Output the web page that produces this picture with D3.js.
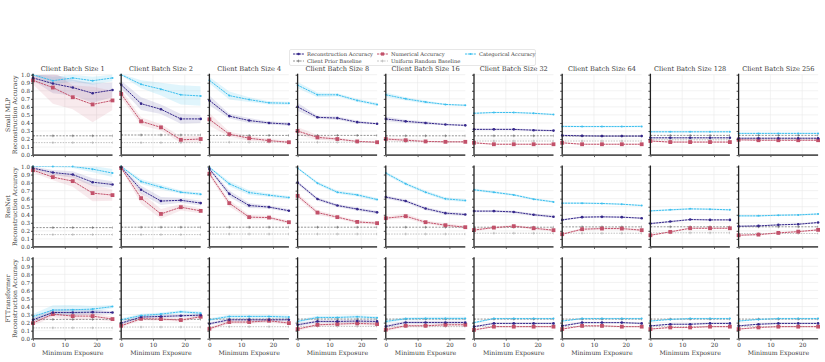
<!DOCTYPE html>
<html>
<head>
<meta charset="utf-8">
<script src="https://cdn.jsdelivr.net/npm/d3@7"></script>
<style>
  body { margin: 0; background: #fff; }
  text { font-family: "DejaVu Serif", serif; fill: #3a3a3a; }
</style>
</head>
<body>
<svg width="825" height="362"></svg>
<script>
const batchSizes = [1, 2, 4, 8, 16, 32, 64, 128, 256];
const exposure = [0, 6.25, 12.5, 18.75, 25];
const modelNames = ['Small MLP', 'ResNet', 'FTTransformer'];

// Small MLP
const mlpRecon = [
  [0.96, 0.89, 0.84, 0.77, 0.81], [0.875, 0.64, 0.57, 0.45, 0.45], [0.68, 0.485, 0.43, 0.40, 0.385],
  [0.60, 0.47, 0.46, 0.41, 0.39], [0.45, 0.42, 0.40, 0.38, 0.37], [0.32, 0.32, 0.32, 0.31, 0.305],
  [0.245, 0.24, 0.237, 0.237, 0.237], [0.215, 0.215, 0.215, 0.215, 0.215], [0.21, 0.21, 0.21, 0.21, 0.21]];
const mlpNum = [
  [0.93, 0.84, 0.72, 0.63, 0.68], [0.76, 0.42, 0.345, 0.19, 0.20], [0.445, 0.26, 0.21, 0.18, 0.16],
  [0.30, 0.22, 0.20, 0.17, 0.16], [0.20, 0.185, 0.17, 0.165, 0.165], [0.153, 0.135, 0.135, 0.135, 0.135],
  [0.153, 0.135, 0.135, 0.135, 0.135], [0.175, 0.162, 0.162, 0.162, 0.162], [0.19, 0.185, 0.185, 0.185, 0.185]];
const mlpCat = [
  [1.0, 0.925, 0.96, 0.925, 0.96], [1.0, 0.88, 0.82, 0.75, 0.735], [0.93, 0.74, 0.69, 0.65, 0.645],
  [0.87, 0.75, 0.75, 0.68, 0.63], [0.75, 0.70, 0.66, 0.63, 0.62], [0.52, 0.53, 0.53, 0.52, 0.505],
  [0.357, 0.355, 0.355, 0.355, 0.357], [0.29, 0.29, 0.29, 0.29, 0.29], [0.27, 0.27, 0.27, 0.27, 0.27]];
const mlpReconErr = [
  [0.03, 0.12, 0.10, 0.12, 0.09], [0.05, 0.08, 0.06, 0.06, 0.05], [0.06, 0.03, 0.03, 0.02, 0.02],
  [0.05, 0.02, 0.02, 0.02, 0.01], [0.03, 0.02, 0.02, 0.01, 0.01], [0.01, 0.01, 0.01, 0.01, 0.01],
  [0.01, 0.01, 0.01, 0.01, 0.01], [0.01, 0.01, 0.01, 0.01, 0.01], [0.01, 0.01, 0.01, 0.01, 0.01]];
const mlpNumErr = [
  [0.05, 0.20, 0.15, 0.22, 0.12], [0.05, 0.05, 0.04, 0.04, 0.04], [0.08, 0.03, 0.03, 0.02, 0.02],
  [0.05, 0.03, 0.02, 0.01, 0.01], [0.02, 0.02, 0.01, 0.01, 0.01], [0.01, 0.01, 0.01, 0.01, 0.01],
  [0.01, 0.01, 0.01, 0.01, 0.01], [0.01, 0.01, 0.01, 0.01, 0.01], [0.01, 0.01, 0.01, 0.01, 0.01]];
const mlpCatErr = [
  [0.01, 0.05, 0.04, 0.05, 0.04], [0.01, 0.05, 0.08, 0.12, 0.12], [0.04, 0.05, 0.03, 0.02, 0.02],
  [0.04, 0.03, 0.02, 0.02, 0.02], [0.03, 0.02, 0.02, 0.01, 0.01], [0.01, 0.01, 0.01, 0.01, 0.01],
  [0.01, 0.01, 0.01, 0.01, 0.01], [0.01, 0.01, 0.01, 0.01, 0.01], [0.01, 0.01, 0.01, 0.01, 0.01]];
const mlpPrior = [0.24, 0.25, 0.245, 0.245, 0.24, 0.24, 0.237, 0.245, 0.245];
const mlpUniform = [0.155, 0.155, 0.16, 0.16, 0.165, 0.175, 0.175, 0.19, 0.2];

// ResNet
const resRecon = [
  [0.98, 0.925, 0.90, 0.805, 0.776], [0.99, 0.71, 0.57, 0.58, 0.545], [0.97, 0.66, 0.515, 0.495, 0.45],
  [0.80, 0.595, 0.515, 0.47, 0.43], [0.62, 0.57, 0.477, 0.42, 0.403], [0.445, 0.445, 0.435, 0.40, 0.375],
  [0.336, 0.37, 0.374, 0.37, 0.357], [0.29, 0.315, 0.34, 0.336, 0.336], [0.257, 0.261, 0.274, 0.282, 0.303]];
const resNum = [
  [0.955, 0.868, 0.818, 0.669, 0.644], [0.98, 0.606, 0.41, 0.494, 0.448], [0.91, 0.544, 0.37, 0.365, 0.307],
  [0.635, 0.427, 0.37, 0.311, 0.295], [0.357, 0.382, 0.307, 0.27, 0.245], [0.21, 0.24, 0.258, 0.232, 0.208],
  [0.158, 0.22, 0.228, 0.228, 0.208], [0.145, 0.187, 0.232, 0.232, 0.232], [0.145, 0.153, 0.174, 0.19, 0.212]];
const resCat = [
  [1.0, 1.0, 1.0, 0.967, 0.918], [1.0, 0.813, 0.743, 0.68, 0.656], [0.99, 0.785, 0.676, 0.643, 0.614],
  [0.98, 0.793, 0.68, 0.647, 0.589], [0.918, 0.785, 0.68, 0.598, 0.577], [0.71, 0.68, 0.647, 0.594, 0.56],
  [0.544, 0.544, 0.54, 0.531, 0.515], [0.448, 0.461, 0.473, 0.469, 0.461], [0.386, 0.386, 0.394, 0.398, 0.41]];
const resReconErr = [
  [0.02, 0.03, 0.04, 0.05, 0.04], [0.01, 0.05, 0.05, 0.03, 0.03], [0.02, 0.04, 0.03, 0.02, 0.02],
  [0.02, 0.02, 0.02, 0.02, 0.02], [0.02, 0.02, 0.02, 0.02, 0.02], [0.015, 0.015, 0.015, 0.015, 0.015],
  [0.01, 0.01, 0.01, 0.01, 0.01], [0.01, 0.01, 0.01, 0.01, 0.01], [0.01, 0.01, 0.01, 0.01, 0.01]];
const resNumErr = [
  [0.03, 0.04, 0.07, 0.10, 0.07], [0.01, 0.07, 0.06, 0.04, 0.03], [0.03, 0.04, 0.03, 0.02, 0.02],
  [0.03, 0.03, 0.02, 0.02, 0.02], [0.02, 0.03, 0.02, 0.02, 0.02], [0.015, 0.015, 0.015, 0.015, 0.015],
  [0.01, 0.015, 0.015, 0.015, 0.015], [0.01, 0.01, 0.01, 0.01, 0.01], [0.01, 0.01, 0.01, 0.01, 0.01]];
const resCatErr = [
  [0.005, 0.01, 0.02, 0.04, 0.05], [0.01, 0.03, 0.03, 0.02, 0.02], [0.01, 0.03, 0.03, 0.02, 0.02],
  [0.01, 0.02, 0.02, 0.02, 0.02], [0.02, 0.02, 0.02, 0.02, 0.02], [0.015, 0.015, 0.015, 0.015, 0.015],
  [0.01, 0.01, 0.01, 0.01, 0.01], [0.01, 0.01, 0.01, 0.01, 0.01], [0.01, 0.01, 0.01, 0.01, 0.01]];
const resPrior = [0.24, 0.245, 0.245, 0.245, 0.245, 0.245, 0.249, 0.25, 0.25];
const resUniform = [0.153, 0.153, 0.16, 0.16, 0.16, 0.17, 0.17, 0.175, 0.167];

// FTTransformer
const ftRecon = [
  [0.235, 0.326, 0.326, 0.33, 0.326], [0.194, 0.269, 0.277, 0.285, 0.293], [0.186, 0.235, 0.235, 0.235, 0.235],
  [0.173, 0.215, 0.215, 0.219, 0.215], [0.153, 0.202, 0.202, 0.202, 0.202], [0.15, 0.19, 0.19, 0.19, 0.19],
  [0.16, 0.20, 0.20, 0.20, 0.19], [0.16, 0.18, 0.18, 0.19, 0.19], [0.16, 0.18, 0.19, 0.19, 0.19]];
const ftNum = [
  [0.194, 0.306, 0.281, 0.281, 0.244], [0.161, 0.248, 0.244, 0.232, 0.273], [0.124, 0.207, 0.207, 0.223, 0.194],
  [0.12, 0.173, 0.182, 0.19, 0.182], [0.112, 0.161, 0.161, 0.173, 0.173], [0.11, 0.15, 0.15, 0.15, 0.15],
  [0.12, 0.16, 0.16, 0.15, 0.15], [0.12, 0.14, 0.14, 0.15, 0.15], [0.12, 0.14, 0.15, 0.15, 0.15]];
const ftCat = [
  [0.277, 0.356, 0.36, 0.368, 0.40], [0.235, 0.289, 0.306, 0.335, 0.318], [0.235, 0.277, 0.277, 0.277, 0.269],
  [0.215, 0.264, 0.264, 0.273, 0.26], [0.215, 0.248, 0.252, 0.252, 0.252], [0.20, 0.25, 0.25, 0.25, 0.25],
  [0.22, 0.25, 0.25, 0.25, 0.25], [0.22, 0.24, 0.25, 0.25, 0.25], [0.22, 0.24, 0.25, 0.25, 0.25]];
const ftReconErr = [
  [0.03, 0.04, 0.04, 0.03, 0.02], [0.02, 0.02, 0.02, 0.02, 0.02], [0.02, 0.02, 0.02, 0.02, 0.02],
  [0.02, 0.02, 0.02, 0.02, 0.02], [0.02, 0.02, 0.02, 0.02, 0.02], [0.01, 0.01, 0.01, 0.01, 0.01],
  [0.01, 0.01, 0.01, 0.01, 0.01], [0.01, 0.01, 0.01, 0.01, 0.01], [0.01, 0.01, 0.01, 0.01, 0.01]];
const ftNumErr = [
  [0.03, 0.04, 0.05, 0.04, 0.03], [0.02, 0.02, 0.02, 0.02, 0.02], [0.02, 0.02, 0.02, 0.02, 0.02],
  [0.02, 0.02, 0.02, 0.02, 0.02], [0.02, 0.02, 0.02, 0.02, 0.02], [0.01, 0.01, 0.01, 0.01, 0.01],
  [0.01, 0.01, 0.01, 0.01, 0.01], [0.01, 0.01, 0.01, 0.01, 0.01], [0.01, 0.01, 0.01, 0.01, 0.01]];
const ftCatErr = [
  [0.03, 0.06, 0.06, 0.04, 0.02], [0.02, 0.02, 0.02, 0.02, 0.02], [0.02, 0.02, 0.02, 0.02, 0.02],
  [0.02, 0.02, 0.02, 0.02, 0.02], [0.02, 0.02, 0.02, 0.02, 0.02], [0.01, 0.01, 0.01, 0.01, 0.01],
  [0.01, 0.01, 0.01, 0.01, 0.01], [0.01, 0.01, 0.01, 0.01, 0.01], [0.01, 0.01, 0.01, 0.01, 0.01]];
const ftPrior = [0.24, 0.24, 0.244, 0.244, 0.244, 0.244, 0.244, 0.244, 0.244];
const ftUniform = [0.135, 0.145, 0.149, 0.153, 0.15, 0.15, 0.15, 0.15, 0.15];

const yTicks = [0, 0.1, 0.2, 0.3, 0.4, 0.5, 0.6, 0.7, 0.8, 0.9, 1.0];
const xTicks = [0, 10, 20];

const colors = { recon: '#35278a', num: '#c2516a', cat: '#3cbfee', prior: '#666', uniform: '#b0b0b0' };

const rows = [
  { recon: mlpRecon, num: mlpNum, cat: mlpCat, reconErr: mlpReconErr, numErr: mlpNumErr, catErr: mlpCatErr, prior: mlpPrior, uniform: mlpUniform },
  { recon: resRecon, num: resNum, cat: resCat, reconErr: resReconErr, numErr: resNumErr, catErr: resCatErr, prior: resPrior, uniform: resUniform },
  { recon: ftRecon, num: ftNum, cat: ftCat, reconErr: ftReconErr, numErr: ftNumErr, catErr: ftCatErr, prior: ftPrior, uniform: ftUniform }
];

const svg = d3.select('svg');
const pw = 79.5, ph = 80.4;
const colX = c => 33 + c * 88.2;
const rowY = r => 74.7 + r * 91.8;

const x = d3.scaleLinear().domain([0, 25]).range([0, pw]);
const y = d3.scaleLinear().domain([0, 1]).range([ph, 0]);

const line = d3.line().x((d, i) => x(exposure[i])).y(d => y(d));
const band = (vals, errs) => d3.area()
  .x((d, i) => x(exposure[i]))
  .y0((d, i) => y(d - errs[i]))
  .y1((d, i) => y(d + errs[i]))(vals);

svg.append('defs').append('clipPath').attr('id', 'clip')
  .append('rect').attr('x', 0).attr('y', 0).attr('width', pw).attr('height', ph);

function drawPlus(g, px, py, col) {
  g.append('path')
    .attr('d', `M${px - 1.4},${py}H${px + 1.4}M${px},${py - 1.4}V${py + 1.4}`)
    .attr('stroke', col).attr('stroke-width', 0.6);
}

rows.forEach((row, r) => {
  batchSizes.forEach((bs, c) => {
    const g = svg.append('g').attr('transform', `translate(${colX(c)},${rowY(r)})`);

    // grid
    g.selectAll('.hg').data(yTicks).enter().append('line')
      .attr('x1', 0).attr('x2', pw)
      .attr('y1', d => y(d)).attr('y2', d => y(d))
      .attr('stroke', '#e9e9e9').attr('stroke-width', 0.6);
    g.selectAll('.vg').data(xTicks).enter().append('line')
      .attr('x1', d => x(d)).attr('x2', d => x(d))
      .attr('y1', 0).attr('y2', ph)
      .attr('stroke', '#e9e9e9').attr('stroke-width', 0.6);

    const plot = g.append('g').attr('clip-path', 'url(#clip)');

    // bands
    [['cat', 'catErr'], ['recon', 'reconErr'], ['num', 'numErr']].forEach(([k, e]) => {
      plot.append('path').attr('d', band(row[k][c], row[e][c]))
        .attr('fill', colors[k]).attr('fill-opacity', k === 'cat' ? 0.16 : 0.12);
    });

    // baselines
    const priorVals = exposure.map(() => row.prior[c]);
    const uniVals = exposure.map(() => row.uniform[c]);
    plot.append('path').attr('d', line(uniVals)).attr('fill', 'none')
      .attr('stroke', colors.uniform).attr('stroke-width', 0.8).attr('stroke-dasharray', '1.5,1.2');
    plot.append('path').attr('d', line(priorVals)).attr('fill', 'none')
      .attr('stroke', colors.prior).attr('stroke-width', 0.7).attr('stroke-dasharray', '2,1.3');
    exposure.forEach((e, i) => {
      drawPlus(plot, x(e), y(uniVals[i]), colors.uniform);
      drawPlus(plot, x(e), y(priorVals[i]), colors.prior);
    });

    // series
    ['num', 'recon', 'cat'].forEach(k => {
      plot.append('path').attr('d', line(row[k][c])).attr('fill', 'none')
        .attr('stroke', colors[k]).attr('stroke-width', 1).attr('stroke-dasharray', '2.2,0.7');
    });
    row.num[c].forEach((v, i) => {
      g.append('rect').attr('x', x(exposure[i]) - 1.9).attr('y', y(v) - 1.9)
        .attr('width', 3.8).attr('height', 3.8).attr('fill', colors.num);
    });
    row.recon[c].forEach((v, i) => {
      g.append('circle').attr('cx', x(exposure[i])).attr('cy', y(v)).attr('r', 1.3).attr('fill', colors.recon);
    });
    row.cat[c].forEach((v, i) => {
      g.append('circle').attr('cx', x(exposure[i])).attr('cy', y(v)).attr('r', 1).attr('fill', colors.cat);
    });

    // axes
    const ya = g.append('g').call(d3.axisLeft(y).tickValues(yTicks).tickSize(2)
      .tickFormat(c === 0 ? d3.format('.1f') : ''));
    ya.select('.domain').remove();
    ya.selectAll('.tick line').attr('stroke', '#222').attr('stroke-width', 0.8);
    ya.selectAll('.tick text').attr('font-size', 5.6).attr('font-family', 'DejaVu Serif').attr('fill', '#444').attr('x', -3);

    const xa = g.append('g').attr('transform', `translate(0,${ph})`)
      .call(d3.axisBottom(x).tickValues(xTicks).tickSize(2).tickFormat(r === 2 ? d3.format('d') : ''));
    xa.select('.domain').remove();
    xa.selectAll('.tick line').attr('stroke', '#333').attr('stroke-width', 0.8);
    xa.selectAll('.tick text').attr('font-size', 5.8).attr('font-family', 'DejaVu Serif').attr('fill', '#444').attr('y', 4);

    g.append('line').attr('x1', 0).attr('x2', 0).attr('y1', -1).attr('y2', ph)
      .attr('stroke', '#222').attr('stroke-width', 1.3);
    g.append('line').attr('x1', 0).attr('x2', pw).attr('y1', ph).attr('y2', ph)
      .attr('stroke', '#555').attr('stroke-width', 1.6);

    if (r === 0) {
      g.append('text').attr('x', pw / 2).attr('y', -4).attr('text-anchor', 'middle')
        .attr('font-size', 6.6).text(`Client Batch Size ${bs}`);
    }
    if (r === 2) {
      g.append('text').attr('x', pw / 2).attr('y', ph + 16).attr('text-anchor', 'middle')
        .attr('font-size', 6.2).text('Minimum Exposure');
    }
  });

  const cy = rowY(r) + ph / 2;
  svg.append('text').attr('transform', `translate(10,${cy}) rotate(-90)`)
    .attr('text-anchor', 'middle').attr('font-size', 6.2).text(modelNames[r]);
  svg.append('text').attr('transform', `translate(17,${cy}) rotate(-90)`)
    .attr('text-anchor', 'middle').attr('font-size', 6.2).text('Reconstruction Accuracy');
});

// legend
const legendItems = [
  { label: 'Reconstruction Accuracy', key: 'recon', lx: 293, ly: 54 },
  { label: 'Numerical Accuracy', key: 'num', lx: 377, ly: 54 },
  { label: 'Categorical Accuracy', key: 'cat', lx: 465, ly: 54 },
  { label: 'Client Prior Baseline', key: 'prior', lx: 293, ly: 61 },
  { label: 'Uniform Random Baseline', key: 'uniform', lx: 377, ly: 61 }
];
const lg = svg.append('g');
lg.append('rect').attr('x', 289.5).attr('y', 49.5).attr('width', 246).attr('height', 16)
  .attr('rx', 1.5).attr('fill', '#fff').attr('stroke', '#d6d6d6').attr('stroke-width', 0.6);
legendItems.forEach(it => {
  const base = it.key === 'prior' || it.key === 'uniform';
  lg.append('line').attr('x1', it.lx).attr('x2', it.lx + 11).attr('y1', it.ly).attr('y2', it.ly)
    .attr('stroke', colors[it.key]).attr('stroke-width', base ? 0.7 : 1)
    .attr('stroke-dasharray', base ? '2,1.3' : '2.2,0.7');
  const mx = it.lx + 5.5;
  if (it.key === 'num') lg.append('rect').attr('x', mx - 1.6).attr('y', it.ly - 1.6).attr('width', 3.2).attr('height', 3.2).attr('fill', colors.num);
  else if (base) drawPlus(lg, mx, it.ly, colors[it.key]);
  else lg.append('circle').attr('cx', mx).attr('cy', it.ly).attr('r', it.key === 'recon' ? 1.3 : 1).attr('fill', colors[it.key]);
  lg.append('text').attr('x', it.lx + 14).attr('y', it.ly + 1.8).attr('font-size', 5.2).text(it.label);
});
</script>
</body>
</html>
